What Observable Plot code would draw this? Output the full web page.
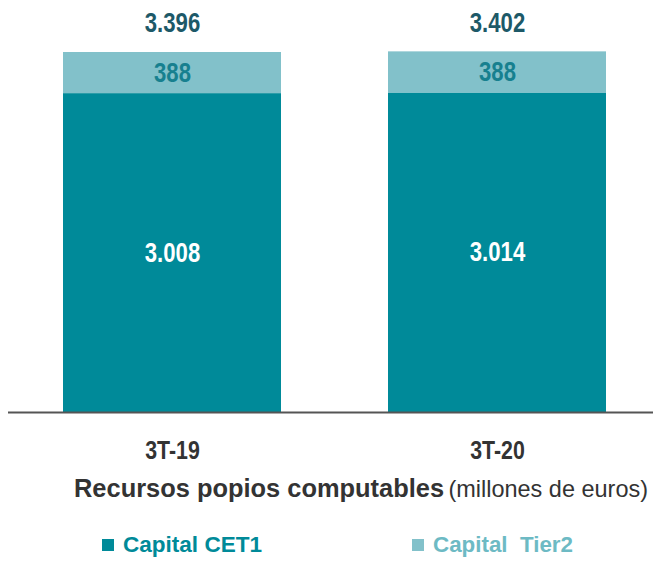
<!DOCTYPE html>
<html>
<head>
<meta charset="utf-8">
<script src="https://cdn.jsdelivr.net/npm/d3@7"></script>
<script src="https://cdn.jsdelivr.net/npm/@observablehq/plot@0.6"></script>
<style>
  html, body { margin: 0; padding: 0; background: #fff; }
  body { width: 653px; height: 563px; position: relative; overflow: hidden;
         font-family: "Liberation Sans", Arial, sans-serif; }
  #chart { position: absolute; left: 0; top: 0; }
  #title { position: absolute; left: 74px; top: 473px; white-space: nowrap; color: #333; line-height: 30px; transform-origin: 0 50%; }
  #title .b { font-weight: bold; font-size: 26px; }
  #title .n { font-weight: normal; font-size: 24px; }
  .leg { position: absolute; top: 532px; white-space: nowrap; font-weight: bold; font-size: 22px; line-height: 26px; }
  .leg .sw { position: absolute; top: 7px; width: 12px; height: 12px; }
  .leg .tx { position: absolute; white-space: nowrap; transform-origin: 0 50%; }
</style>
</head>
<body>
<div id="chart"></div>
<div id="title"><span class="b">Recursos popios computables</span> <span class="n">(millones de euros)</span></div>
<div class="leg" style="left:102px;color:#008A99"><span class="sw" style="left:0;background:#008A99"></span><span class="tx" id="leg1" style="left:21px">Capital CET1</span></div>
<div class="leg" style="left:412px;color:#6DBAC4"><span class="sw" style="left:0;background:#82C1CA"></span><span class="tx" id="leg2" style="left:21px">Capital&nbsp; Tier2</span></div>
<script>
const periods = ["3T-19", "3T-20"];
const cet1 = [3008, 3014];
const tier2 = [388, 388];
const totals = [3396, 3402];
const totalLabels = ["3.396", "3.402"];
const cet1Labels = ["3.008", "3.014"];
const tier2Labels = ["388", "388"];
const seriesNames = ["Capital CET1", "Capital Tier2"];
const colors = ["#008A99", "#82C1CA"];

const rows = [];
periods.forEach((p, i) => {
  rows.push({period: p, series: seriesNames[0], value: cet1[i], label: cet1Labels[i], mid: cet1[i] / 2, color: "#ffffff"});
  rows.push({period: p, series: seriesNames[1], value: tier2[i], label: tier2Labels[i], mid: cet1[i] + tier2[i] / 2, color: "#17808F"});
});
const totRows = periods.map((p, i) => ({period: p, total: totals[i], label: totalLabels[i]}));

const font = "'Liberation Sans', Arial, sans-serif";

const chart = Plot.plot({
  width: 653,
  height: 465,
  marginTop: 52,
  marginBottom: 53,
  marginLeft: 8,
  marginRight: 0,
  style: {fontFamily: font, background: "#fff"},
  x: {domain: periods, padding: 0.328, paddingOuter: 0.1534, align: 0.54, label: null},
  y: {domain: [0, 3396], axis: null},
  color: {domain: seriesNames, range: colors},
  marks: [
    Plot.barY(rows, {x: "period", y: "value", fill: "series", order: seriesNames}),
    Plot.text(rows, {x: "period", y: "mid", text: "label", fill: "color", fontSize: 27, fontWeight: "bold"}),
    Plot.text(totRows, {x: "period", y: "total", text: "label", dy: -29, fill: "#1D5968", fontSize: 27, fontWeight: "bold"}),
    Plot.ruleY([0], {stroke: "#555", strokeWidth: 2}),
    Plot.axisX({tickSize: 0, tickPadding: 28, fontSize: 26, fontWeight: "bold", color: "#333", label: null})
  ]
});
document.getElementById("chart").appendChild(chart);

// Emulate a narrow (condensed) face by compressing glyphs horizontally
const narrow = 0.82;
chart.querySelectorAll("text").forEach(t => {
  const len = t.getComputedTextLength();
  if (len > 0) {
    t.setAttribute("textLength", (len * narrow).toFixed(2));
    t.setAttribute("lengthAdjust", "spacingAndGlyphs");
  }
});
function fitWidth(el, target) {
  const w = el.getBoundingClientRect().width;
  if (w > 0) el.style.transform = `scaleX(${target / w})`;
}
fitWidth(document.getElementById("title"), 574);
fitWidth(document.getElementById("leg1"), 139);
fitWidth(document.getElementById("leg2"), 140);
</script>
</body>
</html>
